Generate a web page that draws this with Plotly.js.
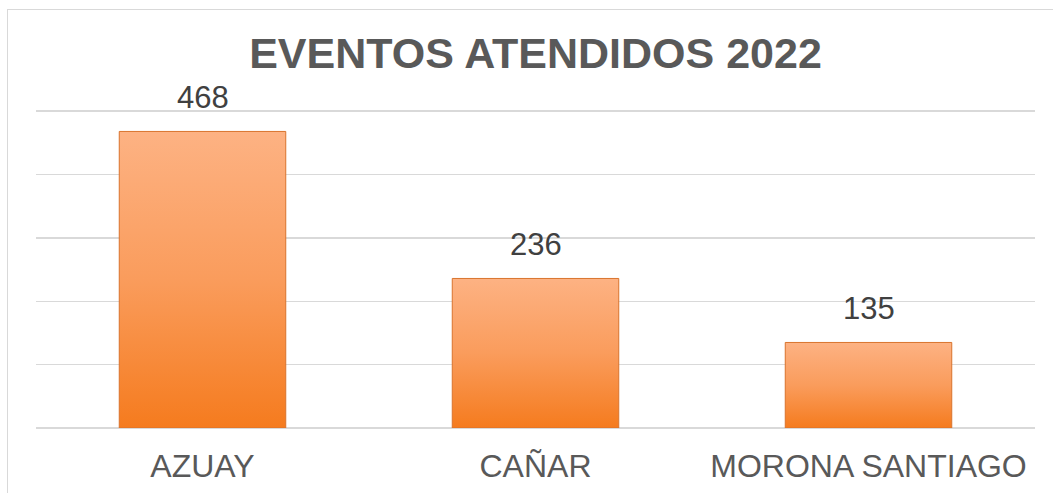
<!DOCTYPE html>
<html>
<head>
<meta charset="utf-8">
<script src="https://cdn.plot.ly/plotly-3.0.1.min.js"></script>
<style>
  html, body { margin: 0; padding: 0; background: #fff; overflow: hidden; }
  #chart { width: 1053px; height: 493px; }
  #frame { position: absolute; left: 7px; top: 9px; width: 1100px; height: 600px;
           border: 1px solid #d9d9d9; pointer-events: none; }
</style>
</head>
<body>
<div id="chart"></div>
<div id="frame"></div>
<script>
const categories = ["AZUAY", "CAÑAR", "MORONA SANTIAGO"];
const eventos = [468, 236, 135];
const chartTitle = "EVENTOS ATENDIDOS 2022";

const trace = {
  type: "bar",
  x: categories,
  y: eventos,
  width: 0.5,
  marker: { color: "#F99A55", line: { color: "#D9732C", width: 1 } },
  hoverinfo: "x+y"
};

const annotations = categories.map((c, i) => ({
  x: c, y: eventos[i], xref: "x", yref: "y",
  text: String(eventos[i]), showarrow: false,
  yanchor: "bottom", yshift: 14,
  font: { family: "Liberation Sans, Arial, sans-serif", size: 31, color: "#404040" }
}));

const layout = {
  width: 1053, height: 493,
  margin: { l: 36, r: 18, t: 108.3, b: 65, pad: 0 },
  paper_bgcolor: "#ffffff", plot_bgcolor: "#ffffff",
  title: {
    text: "<b>" + chartTitle + "</b>",
    font: { family: "Liberation Sans, Arial, sans-serif", size: 43, color: "#595959" },
    x: 0.5, xanchor: "center", xref: "paper",
    y: 1 - 53 / 493, yanchor: "middle", yref: "container"
  },
  xaxis: {
    type: "category",
    showgrid: false, zeroline: false, showline: false, ticks: "",
    tickfont: { family: "Liberation Sans, Arial, sans-serif", size: 32, color: "#595959" },
    ticklabelstandoff: 16
  },
  yaxis: {
    range: [0, 505], tickvals: [0, 100, 200, 300, 400, 500],
    showgrid: true, gridcolor: "#d9d9d9", gridwidth: 1.5,
    zeroline: true, zerolinecolor: "#d9d9d9", zerolinewidth: 1.5,
    showticklabels: false, ticks: "", showline: false
  },
  annotations: annotations,
  showlegend: false,
  bargap: 0.5
};

Plotly.newPlot("chart", [trace], layout, { displayModeBar: false, staticPlot: true }).then(gd => {
  const svg = gd.querySelector("svg.main-svg");
  const ns = "http://www.w3.org/2000/svg";
  let defs = svg.querySelector("defs");
  if (!defs) { defs = document.createElementNS(ns, "defs"); svg.insertBefore(defs, svg.firstChild); }
  const lg = document.createElementNS(ns, "linearGradient");
  lg.setAttribute("id", "barGrad");
  lg.setAttribute("x1", "0"); lg.setAttribute("y1", "0");
  lg.setAttribute("x2", "0"); lg.setAttribute("y2", "1");
  [["0", "#FDB283"], ["0.5", "#FA9C5C"], ["1", "#F57B1E"]].forEach(([o, c]) => {
    const s = document.createElementNS(ns, "stop");
    s.setAttribute("offset", o); s.setAttribute("stop-color", c);
    lg.appendChild(s);
  });
  defs.appendChild(lg);
  gd.querySelectorAll(".barlayer .point path").forEach(p => {
    p.style.fill = "url(#barGrad)";
  });
});
</script>
</body>
</html>
